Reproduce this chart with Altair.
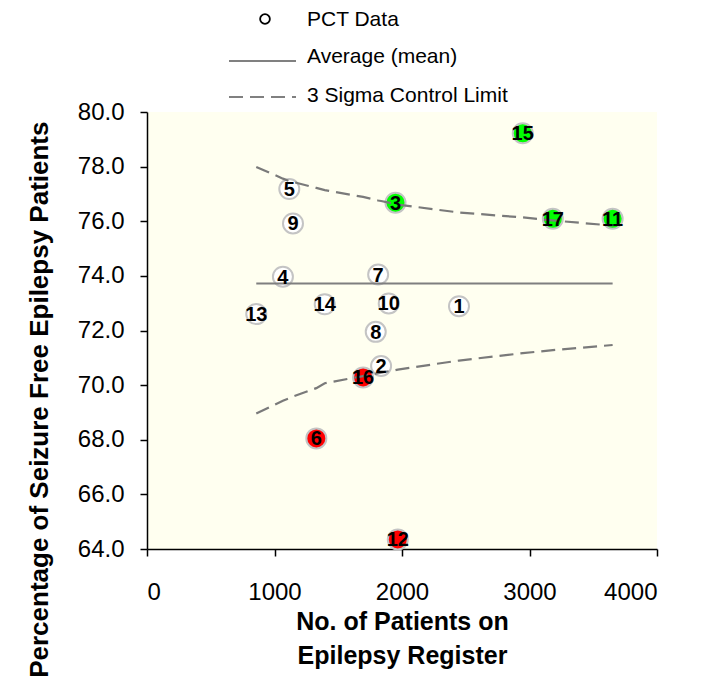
import altair as alt
import pandas as pd

# ---- data ----
practice_ids = [1, 2, 3, 4, 5, 6, 7, 8, 9, 10, 11, 12, 13, 14, 15, 16, 17]
patients = [2447, 1836, 1949, 1066, 1116, 1328, 1813, 1794, 1145, 1896, 3652, 1967, 857, 1394, 2947, 1695, 3183]
pct_seizure_free = [72.89, 70.70, 76.68, 73.97, 77.18, 68.05, 74.05, 71.95, 75.92, 72.99, 76.09, 64.35, 72.60, 72.96, 79.22, 70.28, 76.09]
status = ["normal", "normal", "high", "normal", "normal", "low", "normal", "normal", "normal",
          "normal", "high", "low", "normal", "normal", "high", "low", "high"]

mean_x = [857, 3652]
mean_y = [73.72, 73.72]

limit_x = [857, 1066, 1116, 1145, 1328, 1394, 1695, 1794, 1813, 1836, 1896, 1949, 1967, 2447, 2947, 3183, 3652]
upper_limit = [77.99, 77.56, 77.47, 77.44, 77.22, 77.14, 76.89, 76.78, 76.76, 76.74, 76.68, 76.63, 76.61, 76.32, 76.14, 76.03, 75.84]
lower_limit = [68.96, 69.43, 69.52, 69.58, 69.89, 70.07, 70.33, 70.42, 70.44, 70.46, 70.51, 70.55, 70.57, 70.90, 71.17, 71.28, 71.47]

legend_labels = ["PCT Data", "Average (mean)", "3 Sigma Control Limit"]
x_ticks = [0, 1000, 2000, 3000, 4000]
y_ticks = [64, 66, 68, 70, 72, 74, 76, 78, 80]

FONT = "Liberation Sans"
W, H = 510, 437

pts = pd.DataFrame({"id": practice_ids, "n": patients, "pct": pct_seizure_free, "status": status})
mean_df = pd.DataFrame({"n": mean_x, "pct": mean_y})
lim_df = pd.concat([
    pd.DataFrame({"n": limit_x, "pct": upper_limit, "side": "upper"}),
    pd.DataFrame({"n": limit_x, "pct": lower_limit, "side": "lower"}),
])

xscale = alt.Scale(domain=[0, 4000], nice=False, zero=False)
yscale = alt.Scale(domain=[64, 80], nice=False, zero=False)

x_enc = alt.X("n:Q", scale=xscale, axis=alt.Axis(
    values=x_ticks, format="d", grid=False,
    title=["No. of Patients  on", "Epilepsy Register"],
    titleFont=FONT, titleFontSize=25, titleFontWeight="bold", titleColor="black",
    titleLineHeight=34, titlePadding=5,
    labelFont=FONT, labelFontSize=24, labelColor="black", labelPadding=24,
    tickSize=7, tickColor="black", tickWidth=1.5,
    domainColor="black", domainWidth=1.5,
))
y_enc = alt.Y("pct:Q", scale=yscale, axis=alt.Axis(
    values=y_ticks, format=".1f", grid=False,
    title="Percentage  of Seizure Free  Epilepsy Patients",
    titleFont=FONT, titleFontSize=26, titleFontWeight="bold", titleColor="black",
    titleAngle=270, titleX=-100, titleY=9, titleAlign="right", titleBaseline="alphabetic",
    labelFont=FONT, labelFontSize=24, labelColor="black", labelPadding=16,
    tickSize=7, tickColor="black", tickWidth=1.5,
    domainColor="black", domainWidth=1.5,
))

circles = alt.Chart(pts).mark_point(
    shape="circle", filled=True, size=400, stroke="#c4c4c4", strokeWidth=2, opacity=1
).encode(
    x=x_enc, y=y_enc,
    fill=alt.Fill("status:N", scale=alt.Scale(domain=["normal", "high", "low"],
                                              range=["#FFFFFF", "#00FF00", "#FF0000"]), legend=None),
)

mean_line = alt.Chart(mean_df).mark_line(color="#7f7f7f", strokeWidth=2).encode(
    x=alt.X("n:Q", scale=xscale), y=alt.Y("pct:Q", scale=yscale))

limit_lines = alt.Chart(lim_df).mark_line(color="#7a7a7a", strokeWidth=2.2, strokeDash=[14, 7]).encode(
    x=alt.X("n:Q", scale=xscale), y=alt.Y("pct:Q", scale=yscale), detail="side:N")

labels = alt.Chart(pts).mark_text(
    font=FONT, fontSize=20, fontWeight="bold", color="black", baseline="middle", dy=1
).encode(x=alt.X("n:Q", scale=xscale), y=alt.Y("pct:Q", scale=yscale), text="id:N")

# ---- legend drawn above the plot ----
leg_df = pd.DataFrame({"label": legend_labels})
one = pd.DataFrame({"k": [0]})
leg_symbol = alt.Chart(one).mark_point(shape="circle", size=95, stroke="black", strokeWidth=1.8, filled=False, opacity=1).encode(
    x=alt.value(118), y=alt.value(-93))
leg_mean = alt.Chart(one).mark_rule(color="#808080", strokeWidth=2).encode(
    x=alt.value(82), x2=alt.value(149), y=alt.value(-51))
leg_dash = alt.Chart(one).mark_rule(color="#808080", strokeWidth=2, strokeDash=[14, 7]).encode(
    x=alt.value(82), x2=alt.value(149), y=alt.value(-15))
leg_text = alt.layer(*[
    alt.Chart(leg_df).transform_filter(alt.datum.label == lab).mark_text(
        font=FONT, fontSize=21, color="black", align="left", baseline="middle"
    ).encode(x=alt.value(160), y=alt.value(yv), text="label:N")
    for lab, yv in zip(legend_labels, [-92, -55, -16])
])

chart = alt.layer(
    circles, mean_line, limit_lines, labels, leg_symbol, leg_mean, leg_dash, leg_text
).properties(
    width=W, height=H,
    autosize=alt.AutoSizeParams(type="none"),
    padding={"left": 139, "top": 104, "right": 40, "bottom": 150},
).configure_view(fill="#FFFFF0", strokeWidth=0)

chart.save("out.html", embed_options={"renderer": "svg", "actions": False})
